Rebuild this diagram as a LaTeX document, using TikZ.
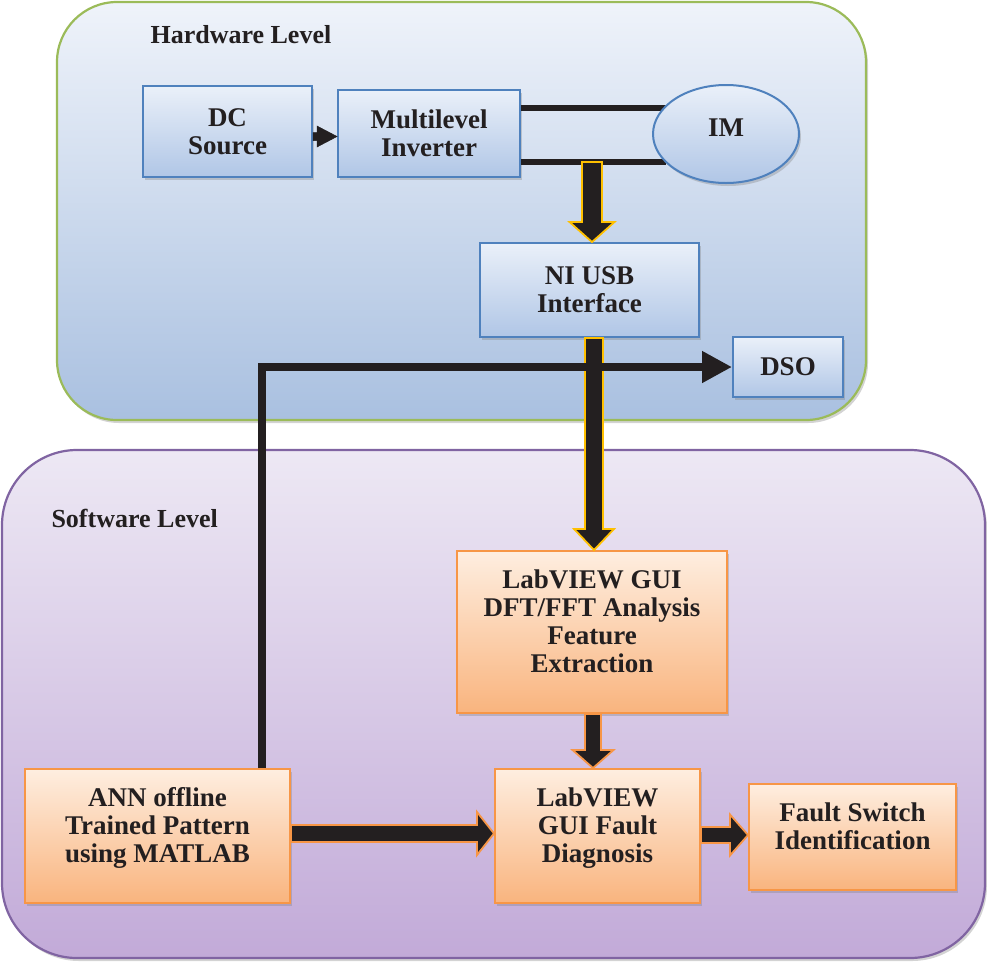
\documentclass[tikz,border=0pt]{standalone}
\usepackage{fontspec}
\setmainfont{Liberation Serif}
\usetikzlibrary{calc,shapes.geometric,shadows,arrows.meta}
\definecolor{hwborder}{HTML}{9BBB59}
\definecolor{hwtop}{HTML}{EFF3FA}
\definecolor{hwbot}{HTML}{A9C0E0}
\definecolor{swborder}{HTML}{8064A2}
\definecolor{swtop}{HTML}{EDE8F4}
\definecolor{swbot}{HTML}{C2AAD8}
\definecolor{boxblue}{HTML}{4F81BD}
\definecolor{bluetop}{HTML}{EAF0F9}
\definecolor{bluebot}{HTML}{B0C6E6}
\definecolor{boxorange}{HTML}{F79646}
\definecolor{orangetop}{HTML}{FEEEE0}
\definecolor{orangebot}{HTML}{F9B47E}
\definecolor{ink}{HTML}{231F20}
\definecolor{arryellow}{HTML}{FFC000}
\newcommand\blkdown[6]{%
  \filldraw[#3] ($(#1)+(-#4,0)$) -- ($(#2)+(-#4,-#6)$) -- ($(#2)+(-#5,-#6)$) -- (#2)
    -- ($(#2)+(#5,-#6)$) -- ($(#2)+(#4,-#6)$) -- ($(#1)+(#4,0)$) -- cycle;}
\newcommand\blkright[6]{%
  \filldraw[#3] ($(#1)+(0,-#4)$) -- ($(#2)+(-#6,-#4)$) -- ($(#2)+(-#6,-#5)$) -- (#2)
    -- ($(#2)+(-#6,#5)$) -- ($(#2)+(-#6,#4)$) -- ($(#1)+(0,#4)$) -- cycle;}
\begin{document}
\begin{tikzpicture}[x=1pt,y=-1pt,
  font=\fontsize{27}{28}\selectfont\bfseries, text=ink,
  shade/.style={drop shadow={shadow xshift=2pt,shadow yshift=-3pt,opacity=.35}},
  panel/.style={line width=2.2pt, rounded corners=#1, shade, inner sep=0pt},
  bluebox/.style={draw=boxblue, line width=2pt, top color=bluetop, bottom color=bluebot,
    align=center, inner sep=0pt, shade},
  orangebox/.style={draw=boxorange, line width=2pt, top color=orangetop, bottom color=orangebot,
    align=center, inner sep=0pt, shade},
  title/.style={font=\fontsize{26}{28}\selectfont\bfseries, anchor=base west},
  wire/.style={draw=ink, line width=6pt},
  yarrow/.style={fill=ink, draw=arryellow, line width=1.8pt, miter limit=20},
  oarrow/.style={fill=ink, draw=boxorange, line width=1.8pt, miter limit=20},
  karrow/.style={fill=ink, draw=ink, line width=0.5pt}
]
\useasboundingbox (0,0) rectangle (987,962);

% panels
\node[panel=60pt, draw=hwborder, top color=hwtop, bottom color=hwbot,
      minimum width=809pt, minimum height=418pt] (hw) at (461.5,211) {};
\node[panel=75pt, draw=swborder, top color=swtop, bottom color=swbot,
      minimum width=983pt, minimum height=508pt] (sw) at (493.5,704) {};
\node[title] (hwl) at (147,43) {Hardware Level};
\node[title] (swl) at (48,527) {Software Level};

% hardware nodes
\node[bluebox, minimum width=169pt, minimum height=91pt] (dc) at (227.5,131.5) {DC\\Source};
\node[bluebox, minimum width=182pt, minimum height=87pt] (inv) at (429,133.5) {Multilevel\\Inverter};
\draw[wire] ([yshift=25.5pt]inv.east) -- ++(150,0);
\coordinate (bl) at ([yshift=-28.5pt]inv.east);
\draw[wire] (bl) -- ++(145,0);
\node[ellipse, bluebox, minimum width=146pt, minimum height=98pt] (im) at (726,134) {\raisebox{12pt}{IM}};
\node[bluebox, minimum width=219pt, minimum height=94pt] (nius) at (589.5,290) {NI USB\\Interface};
\node[bluebox, minimum width=110pt, minimum height=60pt] (dso) at (788,367) {DSO};

% software nodes
\node[orangebox, minimum width=270pt, minimum height=162pt] (dft) at (592,632)
  {LabVIEW GUI\\DFT/FFT Analysis\\Feature\\Extraction\\[-6pt]};
\node[orangebox, minimum width=265pt, minimum height=134pt] (ann) at (157.5,836)
  {ANN offline\\Trained Pattern\\using MATLAB\\[-6pt]};
\node[orangebox, minimum width=205pt, minimum height=134pt] (diag) at (597.5,836)
  {LabVIEW\\GUI Fault\\Diagnosis\\[-6pt]};
\node[orangebox, minimum width=207pt, minimum height=106pt] (fsw) at (852.5,837)
  {Fault Switch\\Identification\\[-6pt]};

% arrows
\coordinate (a1) at ([yshift=-5pt]dc.east);
\blkright{a1}{a1 -| inv.west}{karrow}{4}{10.5}{20}
\coordinate (a2) at ($(bl)+(71,0)$);
\blkdown{a2}{nius.north -| a2}{yarrow}{10}{22.5}{20}
\coordinate (ax) at (594,0);
\blkdown{nius.south -| ax}{dft.north -| ax}{yarrow}{9}{20}{21}
\coordinate (bx) at (593,0);
\blkdown{dft.south -| bx}{diag.north -| bx}{oarrow}{8}{20.5}{18}
\coordinate (cy) at (0,833.5);
\blkright{ann.east |- cy}{diag.west |- cy}{oarrow}{8.5}{21.5}{17}
\coordinate (dy) at (0,835);
\blkright{diag.east |- dy}{fsw.west |- dy}{oarrow}{8}{20.5}{18}

\draw[draw=ink, line width=8pt, -{Triangle[length=30pt,width=30pt]}]
  ([xshift=104pt]ann.north) |- (dso.west);
\end{tikzpicture}
\end{document}
